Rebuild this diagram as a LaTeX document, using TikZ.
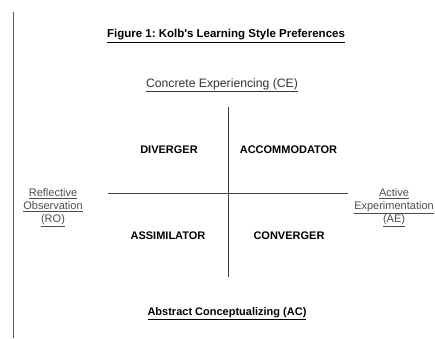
\documentclass[tikz,border=0pt]{standalone}
\usepackage{fontspec}
\setmainfont{Liberation Sans}
\frenchspacing
\tikzset{
  lbl/.style={inner sep=0pt, font=\fontsize{11}{13}\selectfont, text=black},
  boldlbl/.style={lbl, font=\fontsize{11}{13}\selectfont\bfseries},
  side/.style={lbl, align=center, text=black!70, font=\fontsize{11}{13}\selectfont},
  axis/.style={draw=black!75, line width=1pt},
}
\begin{document}
\begin{tikzpicture}[x=1pt,y=-1pt]
\useasboundingbox (0,0) rectangle (435,338);
\draw[black!65, line width=0.9pt] (13,12) -- (13,338);
\node[boldlbl, font=\fontsize{11.5}{13}\selectfont\bfseries] (title) at (226,36) {\underline{Figure 1: Kolb\textquotesingle s Learning Style Preferences}};
\node[lbl, text=black!80, font=\fontsize{12.2}{13}\selectfont] (ce) at (222,85) {\underline{Concrete Experiencing (CE)}};
\node[boldlbl] (ac) at (227,314) {\underline{Abstract Conceptualizing (AC)}};
\coordinate (top) at (228,107);
\coordinate (bot) at (228,277);
\coordinate (lft) at (108,193);
\coordinate (rgt) at (348,193);
\draw[axis] (top) -- (bot);
\draw[axis] (lft) -- (rgt);
\node[boldlbl] (div) at (169,150) {DIVERGER};
\node[boldlbl] (acc) at (288.5,150) {ACCOMMODATOR};
\node[boldlbl] (ass) at (168,236) {ASSIMILATOR};
\node[boldlbl] (con) at (289,236) {CONVERGER};
\node[side] (ro) at (53,208) {\underline{Reflective}\\\underline{Observation}\\\underline{(RO)}};
\node[side] (ae) at (394,208) {\underline{Active}\\\underline{Experimentation}\\\underline{(AE)}};
\end{tikzpicture}
\end{document}
